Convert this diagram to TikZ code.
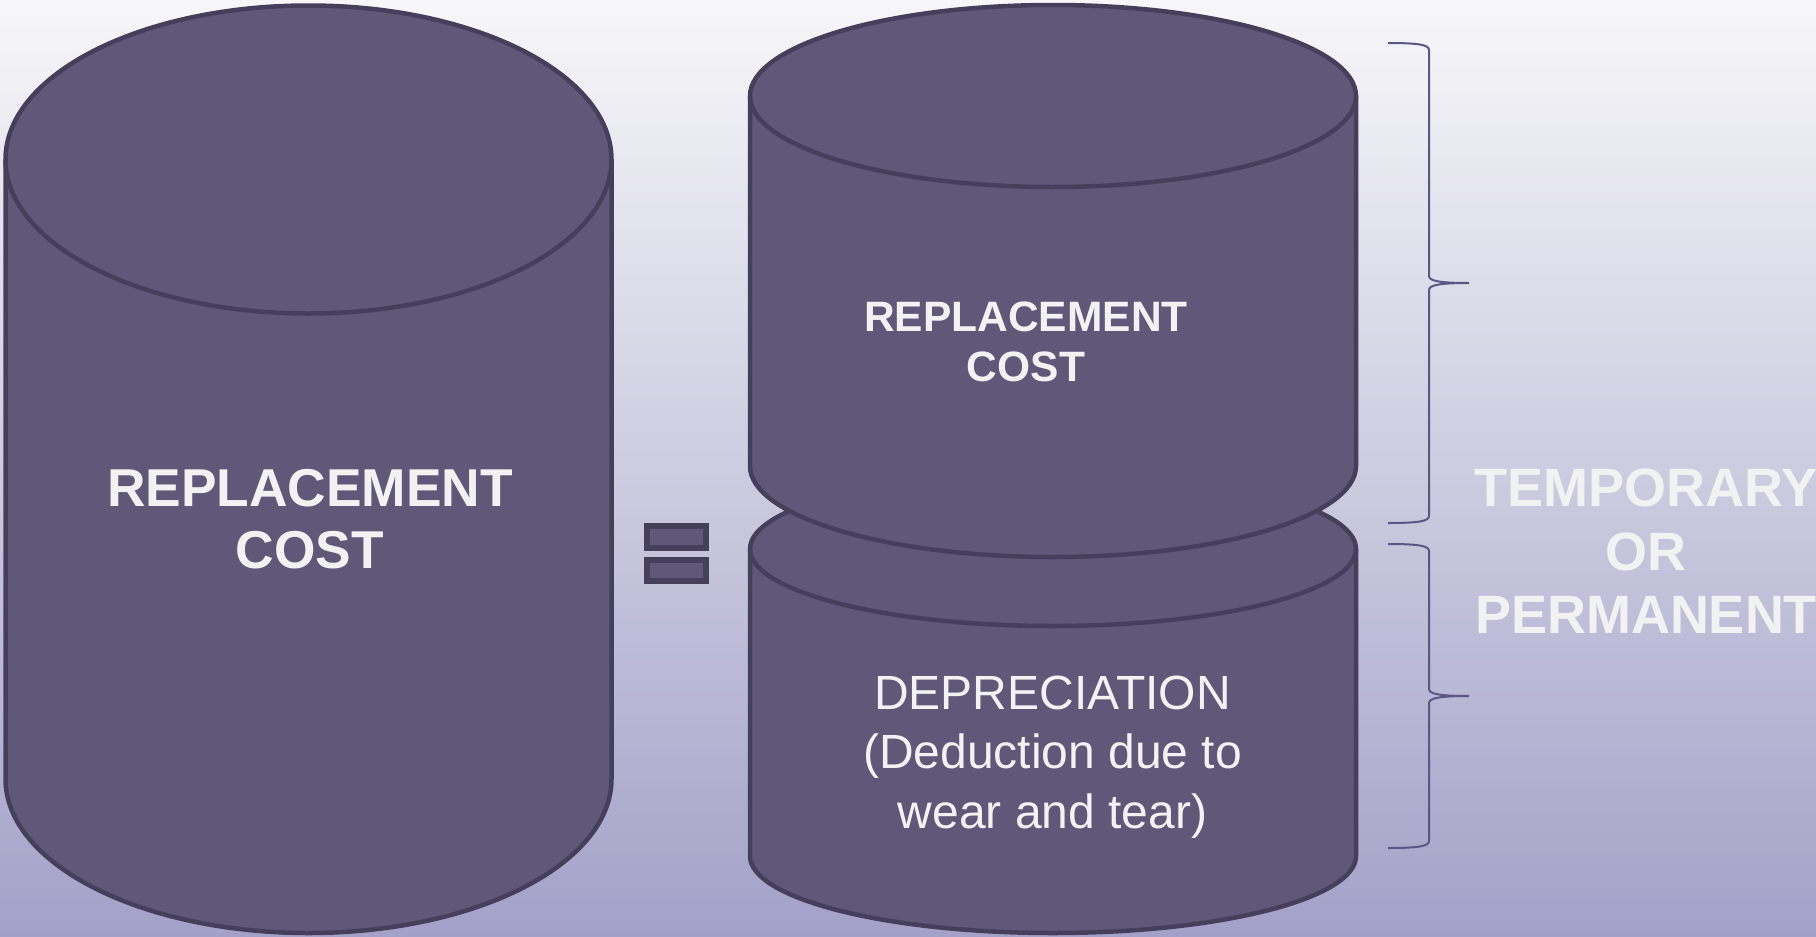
\documentclass[tikz,border=0pt]{standalone}
\usepackage{fontspec}
\setmainfont{Liberation Sans}
\definecolor{cylfill}{RGB}{95,88,121}
\definecolor{cylline}{RGB}{70,63,92}
\definecolor{bracecol}{RGB}{91,86,131}
\definecolor{bgtop}{RGB}{247,247,249}
\definecolor{bgbot}{RGB}{163,161,200}
\definecolor{txtwhite}{RGB}{242,242,242}
\tikzset{
  cyl/.style={fill=cylfill, draw=cylline, line width=4.5pt, line join=round},
  rim/.style={draw=cylline, line width=4.5pt},
  eqbox/.style={fill=cylfill, draw=cylline, line width=6pt},
  bracepath/.style={draw=bracecol, line width=2pt},
  lbl/.style={anchor=base, inner sep=0pt, text=txtwhite},
}
\begin{document}
\begin{tikzpicture}[x=1pt,y=1pt]
\useasboundingbox (0,0) rectangle (1816,-937);
\shade[top color=bgtop, bottom color=bgbot] (0,0) rectangle (1816,-937);

% left cylinder
\path[cyl] (5.5,-159.5) -- (5.5,-779)
  arc[start angle=180,end angle=360,x radius=303pt,y radius=154pt]
  -- (611.5,-159.5)
  arc[start angle=0,end angle=180,x radius=303pt,y radius=154pt] -- cycle;
\path[rim] (5.5,-159.5) arc[start angle=180,end angle=360,x radius=303pt,y radius=154pt];

% lower right cylinder
\path[cyl] (750,-549) -- (750,-856)
  arc[start angle=180,end angle=360,x radius=303pt,y radius=77pt]
  -- (1356,-549)
  arc[start angle=0,end angle=180,x radius=303pt,y radius=77pt] -- cycle;
\path[rim] (750,-549) arc[start angle=180,end angle=360,x radius=303pt,y radius=77pt];

% upper right cylinder
\path[cyl] (750,-96) -- (750,-466)
  arc[start angle=180,end angle=360,x radius=303pt,y radius=91pt]
  -- (1356,-96)
  arc[start angle=0,end angle=180,x radius=303pt,y radius=91pt] -- cycle;
\path[rim] (750,-96) arc[start angle=180,end angle=360,x radius=303pt,y radius=91pt];

% equals sign
\path[eqbox] (647,-526) rectangle (706,-548);
\path[eqbox] (647,-560) rectangle (706,-581);

% braces
\path[bracepath] (1388,-43) .. controls (1420,-43) and (1429,-45) .. (1429,-50)
  -- (1429,-276) .. controls (1429,-281) and (1440,-283) .. (1469,-283)
  .. controls (1440,-283) and (1429,-285) .. (1429,-290)
  -- (1429,-516) .. controls (1429,-521) and (1420,-523) .. (1388,-523);
\path[bracepath] (1388,-544) .. controls (1420,-544) and (1429,-546) .. (1429,-551)
  -- (1429,-689) .. controls (1429,-694) and (1440,-696) .. (1469,-696)
  .. controls (1440,-696) and (1429,-698) .. (1429,-703)
  -- (1429,-841) .. controls (1429,-846) and (1420,-848) .. (1388,-848);

% texts
\node[lbl, font=\fontsize{53.3}{60}\selectfont\bfseries] (l1) at (310,-506.7) {REPLACEMENT};
\node[lbl, font=\fontsize{53.3}{60}\selectfont\bfseries] (l2) at (310,-568) {COST};

\node[lbl, font=\fontsize{42.5}{50}\selectfont\bfseries] (u1) at (1026,-331.7) {REPLACEMENT};
\node[lbl, font=\fontsize{42.5}{50}\selectfont\bfseries] (u2) at (1026,-381.7) {COST};

\node[lbl, font=\fontsize{48}{55}\selectfont] (d1) at (1052.5,-709) {DEPRECIATION};
\node[lbl, font=\fontsize{48}{55}\selectfont] (d2) at (1052.5,-768.5) {(Deduction due to};
\node[lbl, font=\fontsize{48}{55}\selectfont] (d3) at (1052.5,-828) {wear and tear)};

\node[lbl, font=\fontsize{54}{60}\selectfont\bfseries] (r1) at (1646,-506.7) {TEMPORARY};
\node[lbl, font=\fontsize{54}{60}\selectfont\bfseries] (r2) at (1646,-570) {OR};
\node[lbl, font=\fontsize{54}{60}\selectfont\bfseries] (r3) at (1646,-633) {PERMANENT};
\end{tikzpicture}
\end{document}
